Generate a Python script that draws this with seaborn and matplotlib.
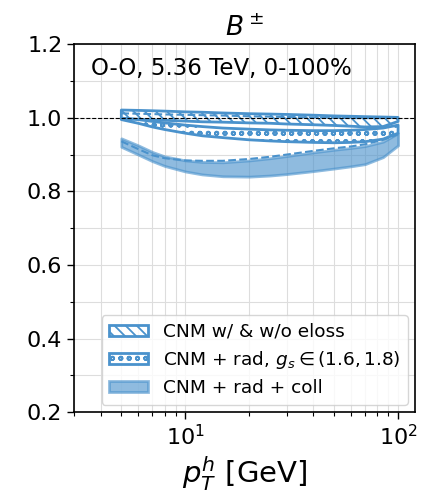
import numpy as np
import pandas as pd
import matplotlib
matplotlib.use("Agg")
import matplotlib.pyplot as plt
import seaborn as sns

pt = [5, 6, 7, 8, 10, 12, 15, 20, 25, 30, 40, 50, 60, 70, 85, 100]

cnm_hi = [1.021, 1.020, 1.019, 1.018, 1.016, 1.015, 1.013, 1.011, 1.010, 1.009, 1.007, 1.005, 1.004, 1.003, 1.002, 1.001]
cnm_lo = [0.998, 0.996, 0.994, 0.993, 0.991, 0.989, 0.988, 0.986, 0.985, 0.983, 0.981, 0.979, 0.977, 0.975, 0.976, 0.990]
cnm_mid = [1.012, 1.011, 1.010, 1.009, 1.008, 1.007, 1.006, 1.004, 1.003, 1.002, 1.001, 1.000, 0.999, 0.999, 0.999, 1.000]

rad_hi = [0.999, 0.995, 0.990, 0.986, 0.980, 0.976, 0.972, 0.969, 0.967, 0.966, 0.965, 0.965, 0.966, 0.968, 0.972, 0.980]
rad_lo = [0.995, 0.985, 0.975, 0.968, 0.958, 0.951, 0.946, 0.940, 0.937, 0.935, 0.933, 0.932, 0.933, 0.935, 0.942, 0.958]

coll_hi = [0.944, 0.925, 0.907, 0.895, 0.884, 0.880, 0.879, 0.884, 0.890, 0.896, 0.906, 0.913, 0.918, 0.923, 0.935, 0.958]
coll_lo = [0.921, 0.900, 0.882, 0.869, 0.854, 0.846, 0.841, 0.840, 0.843, 0.847, 0.855, 0.862, 0.868, 0.874, 0.893, 0.925]
coll_mid = [0.936, 0.915, 0.898, 0.890, 0.884, 0.883, 0.883, 0.888, 0.894, 0.900, 0.910, 0.917, 0.922, 0.928, 0.940, 0.955]

labels = ["CNM w/ & w/o eloss", r"CNM + rad, $g_s \in (1.6, 1.8)$", "CNM + rad + coll"]
title = r"$B^\pm$"
annot = "O-O, 5.36 TeV, 0-100%"
yticks = [0.2, 0.4, 0.6, 0.8, 1.0, 1.2]

sns.set_theme(style="ticks")
plt.rcParams['font.family'] = ['DejaVu Sans']
plt.rcParams['text.color'] = 'black'
plt.rcParams['axes.labelcolor'] = 'black'
plt.rcParams['xtick.color'] = 'black'
plt.rcParams['ytick.color'] = 'black'
plt.rcParams['hatch.color'] = '#4a92cc'
plt.rcParams['hatch.linewidth'] = 1.3

fig = plt.figure(figsize=(4.26, 4.96), dpi=100)
ax = fig.add_axes([0.174, 0.169, 0.80, 0.742])

col = '#4a92cc'
df = pd.DataFrame({"pt": pt, "cnm_mid": cnm_mid, "coll_mid": coll_mid})

ax.fill_between(pt, cnm_lo, cnm_hi, facecolor='none', edgecolor=col, hatch='\\\\\\', lw=2, label=labels[0])
ax.fill_between(pt, rad_lo, rad_hi, facecolor='none', edgecolor=col, hatch='oo', lw=2, label=labels[1])
ax.fill_between(pt, coll_lo, coll_hi, facecolor=col, alpha=0.62, edgecolor=col, lw=2, label=labels[2])
sns.lineplot(data=df, x="pt", y="cnm_mid", ax=ax, color=col, lw=1.5, ls='--', legend=False)
sns.lineplot(data=df, x="pt", y="coll_mid", ax=ax, color=col, lw=1.5, ls='--', legend=False)

ax.axhline(1.0, color='black', ls='--', lw=0.8)

ax.set_xscale('log')
ax.set_xlim(3, 120)
ax.set_ylim(0.2, 1.2)
ax.set_yticks(yticks)
ax.set_yticks(np.arange(0.3, 1.2, 0.2), minor=True)
ax.grid(True, which='both', color='#dddddd', lw=0.8)
ax.tick_params(axis='both', which='major', labelsize=16, direction='out', length=5, width=1)
ax.tick_params(axis='both', which='minor', direction='out', length=3, width=0.8)
for s in ax.spines.values():
    s.set_color('black')
    s.set_linewidth(1.2)

ax.set_xlabel(r"$p_T^h$ [GeV]", fontsize=21)
ax.set_ylabel("")
ax.set_title(title, fontsize=19)
ax.text(0.05, 0.965, annot, transform=ax.transAxes, fontsize=16.5, va='top', ha='left')

ax.legend(loc='lower right', fontsize=13.3, frameon=True, handlelength=2.1, handleheight=0.55,
          borderpad=0.4, labelspacing=0.45, handletextpad=0.8, borderaxespad=0.4)

fig.savefig("out.png", dpi=100)
